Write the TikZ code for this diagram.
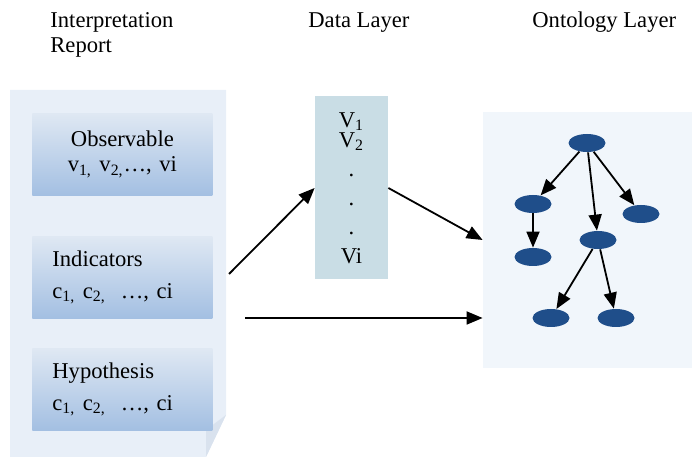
\documentclass[tikz,border=0pt]{standalone}
\usepackage{fontspec}
\setmainfont{Liberation Serif}
\usetikzlibrary{arrows.meta,shapes.geometric}
\tikzset {>={Triangle[length=8pt,width=6.5pt]}}
\definecolor{panelblue}{HTML}{E8EFF8}
\definecolor{flapblue}{HTML}{D9E2EE}
\definecolor{boxtop}{HTML}{DFE8F3}
\definecolor{boxbot}{HTML}{A3BFE2}
\definecolor{datablue}{HTML}{C9DDE5}
\definecolor{ontoblue}{HTML}{F1F6FB}
\definecolor{conceptblue}{HTML}{1F4E8A}

\begin{document}
\begin{tikzpicture}[x=0.5pt,y=-0.5pt,
  lbl/.style={font=\fontsize{11.3}{12.5}\selectfont,inner sep=0pt},
  itembox/.style={lbl,anchor=north west,shade,top color=boxtop,bottom color=boxbot,
    minimum width=90pt,minimum height=41pt,inner xsep=10pt,text width=70pt},
  concept/.style={ellipse,fill=conceptblue,minimum width=18.5pt,minimum height=9pt,inner sep=0pt},
  link/.style={->,line width=0.9pt}]
\useasboundingbox (0,0) rectangle (697,459);

% titles
\node[lbl,anchor=base west,align=left] (reporttitle) at (50,53) {Interpretation\\Report};
\node[lbl,anchor=base west] (datatitle) at (308,28) {Data Layer};
\node[lbl,anchor=base west] (ontotitle) at (532,28) {Ontology Layer};

% report sheet with folded corner
\fill[panelblue]
  (10,90) -- (226,90) -- (226,415) -- (206,457) -- (10,457) -- cycle;
\fill[flapblue] (226,415) -- (206,430) -- (206,457) -- cycle;

\node[itembox,align=center] (obs) at (32,113)
  {Observable\\v\textsubscript{1,} v\textsubscript{2,}\ldots, vi};
\node[itembox,align=left] (ind) at (32,236)
  {Indicators\\[3.5pt]c\textsubscript{1,} c\textsubscript{2,}\ \ \ldots, ci};
\node[itembox,align=left] (hyp) at (32,348)
  {Hypothesis\\[3.5pt]c\textsubscript{1,} c\textsubscript{2,}\ \ \ldots, ci};

% data layer
\node[lbl,fill=datablue,minimum width=36.5pt,minimum height=91.5pt,align=center] (data)
  at (351.5,188)
  {V\textsubscript{1}\\[-2.5pt]V\textsubscript{2}\\[2pt].\\[2pt].\\[2pt].\\[2pt]Vi};

% ontology layer
\node[fill=ontoblue,minimum width=104.5pt,minimum height=128pt,inner sep=0pt] (onto)
  at (587.5,240) {};

\foreach \name/\x/\y in {root/587/143,lefta/533/204,righta/641/214,mida/598/240,
    leftb/533/257,botl/551/318,botr/616/318}
  \node[concept] (\name) at (\x,\y) {};

\foreach \from/\to in {root/lefta,root/mida,root/righta,lefta/leftb,mida/botl,mida/botr}
  \draw[link] (\from) -- (\to);

% connectors between layers
\coordinate (indout) at (229,274);
\coordinate (hypout) at (245,318);
\draw[link] (indout) -- (data.west);
\draw[link] (data.east) -- (onto.west);
\draw[link] (hypout) -- (hypout -| onto.west);
\end{tikzpicture}
\end{document}
